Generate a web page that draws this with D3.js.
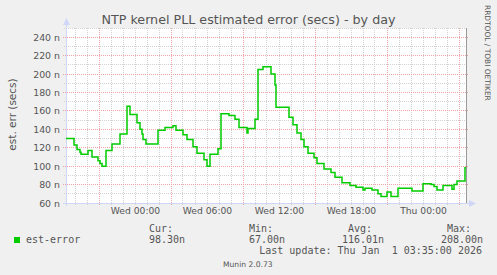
<!DOCTYPE html>
<html>
<head>
<meta charset="utf-8">
<script src="https://cdn.jsdelivr.net/npm/d3@7"></script>
<style>
  body { margin: 0; background: #f0f0f0; }
  svg { display: block; }
  text { font-family: "DejaVu Sans", sans-serif; fill: #555; }
  .mono { font-family: "DejaVu Sans Mono", monospace; font-size: 10px; }
</style>
</head>
<body>
<div id="chart"></div>
<script>
// est-error samples (step starts)
var stepTimes = [
  "2025-12-30 18:15", "2025-12-30 18:55", "2025-12-30 19:10", "2025-12-30 19:25",
  "2025-12-30 19:30", "2025-12-30 20:05", "2025-12-30 20:25", "2025-12-30 20:55",
  "2025-12-30 21:05", "2025-12-30 21:15", "2025-12-30 21:35", "2025-12-30 22:05",
  "2025-12-30 22:45", "2025-12-30 23:20", "2025-12-30 23:35", "2025-12-31 00:10",
  "2025-12-31 00:25", "2025-12-31 00:35", "2025-12-31 00:40", "2025-12-31 00:55",
  "2025-12-31 01:55", "2025-12-31 02:30", "2025-12-31 03:10", "2025-12-31 03:25",
  "2025-12-31 04:00", "2025-12-31 04:20", "2025-12-31 04:50", "2025-12-31 05:10",
  "2025-12-31 05:45", "2025-12-31 06:00", "2025-12-31 06:15", "2025-12-31 06:55",
  "2025-12-31 07:10", "2025-12-31 07:50", "2025-12-31 08:20", "2025-12-31 08:40",
  "2025-12-31 09:20", "2025-12-31 09:25", "2025-12-31 10:00", "2025-12-31 10:15",
  "2025-12-31 10:40", "2025-12-31 11:20", "2025-12-31 11:40", "2025-12-31 11:45",
  "2025-12-31 12:50", "2025-12-31 13:10", "2025-12-31 13:30", "2025-12-31 13:50",
  "2025-12-31 14:05", "2025-12-31 14:25", "2025-12-31 14:55", "2025-12-31 15:10",
  "2025-12-31 15:45", "2025-12-31 16:20", "2025-12-31 16:40", "2025-12-31 17:15",
  "2025-12-31 17:55", "2025-12-31 18:25", "2025-12-31 19:00", "2025-12-31 19:10",
  "2025-12-31 19:45", "2025-12-31 20:15", "2025-12-31 20:30", "2025-12-31 21:00",
  "2025-12-31 21:20", "2025-12-31 21:55", "2025-12-31 23:05", "2026-01-01 00:00",
  "2026-01-01 00:40", "2026-01-01 00:55", "2026-01-01 01:10", "2026-01-01 01:40",
  "2026-01-01 02:25", "2026-01-01 02:35", "2026-01-01 02:50", "2026-01-01 03:30",
  "2026-01-01 03:35"
];
var stepValues = [
  130, 123, 118, 115, 113, 117, 110, 106, 103, 100, 117, 124,
  135, 165, 156, 147, 140, 135, 129, 124, 139, 142, 144, 139,
  134, 129, 121, 114, 107, 100, 113, 119, 157, 155, 151, 142,
  136, 141, 151, 205, 208, 200, 188, 164, 153, 145, 136, 129,
  121, 114, 109, 103, 97, 93, 88, 82, 79, 77, 74, 76,
  74, 70, 67, 72, 67, 76, 73, 81, 80, 78, 74, 79,
  75, 80, 84, 98.3, 98.3
];
var yTicks = [60, 80, 100, 120, 140, 160, 180, 200, 220, 240];
var legendCols = ["Cur:", "Min:", "Avg:", "Max:"];
var legendVals = ["98.30n", "67.00n", "116.01n", "208.00n"];

var W = 497, H = 275;
var pL = 66, pR = 466, pT = 28, pB = 203;

var parse = d3.timeParse("%Y-%m-%d %H:%M");
var data = stepTimes.map(function (t, i) { return { t: parse(t), v: stepValues[i] }; });

var svg = d3.select("#chart").append("svg")
    .attr("width", W)
    .attr("height", H);

svg.append("rect").attr("width", W).attr("height", H).attr("fill", "#f0f0f0");

var x = d3.scaleTime()
    .domain([parse("2025-12-30 18:15"), parse("2026-01-01 03:35")])
    .range([pL, pR]);
var y = d3.scaleLinear().domain([60, 250]).range([pB, pT]);

function px(v) { return Math.floor(v) + 0.5; }

// canvas
svg.append("rect")
    .attr("x", pL).attr("y", pT)
    .attr("width", pR - pL).attr("height", pB - pT)
    .attr("fill", "#fff");

var grid = svg.append("g").attr("stroke-dasharray", "1,1").attr("stroke-width", 1);
var hours = x.ticks(d3.timeHour.every(1));

// minor grid: every hour / every 10n
grid.selectAll(".vmin")
    .data(hours.filter(function (d) { return d.getHours() % 6 != 3; }))
    .enter().append("line")
    .attr("x1", function (d) { return px(x(d)); }).attr("x2", function (d) { return px(x(d)); })
    .attr("y1", pT).attr("y2", pB + 2)
    .attr("stroke", "#d2d2d2");
grid.selectAll(".hmin")
    .data(d3.range(70, 251, 20))
    .enter().append("line")
    .attr("x1", pL - 2).attr("x2", pR)
    .attr("y1", function (d) { return px(y(d)); }).attr("y2", function (d) { return px(y(d)); })
    .attr("stroke", "#d2d2d2");

// major grid: every 6 hours (offset 3h) / every 20n
grid.selectAll(".vmaj")
    .data(hours.filter(function (d) { return d.getHours() % 6 == 3; }))
    .enter().append("line")
    .attr("x1", function (d) { return px(x(d)); }).attr("x2", function (d) { return px(x(d)); })
    .attr("y1", pT).attr("y2", pB + 3)
    .attr("stroke", "#eda4a4");
grid.selectAll(".hmaj")
    .data(yTicks)
    .enter().append("line")
    .attr("x1", pL - 3).attr("x2", pR + 2)
    .attr("y1", function (d) { return px(y(d)); }).attr("y2", function (d) { return px(y(d)); })
    .attr("stroke", "#eda4a4");

// y labels
var yAxis = d3.axisLeft(y).tickValues(yTicks).tickSize(0).tickPadding(0)
    .tickFormat(function (d) { return d + " n"; });
var gy = svg.append("g").attr("transform", "translate(60,0)").call(yAxis);
gy.select(".domain").remove();
gy.selectAll("text").style("font-size", "9.4px").attr("fill", "#555")
    .style("font-family", "DejaVu Sans");

// x labels
var xAxis = d3.axisBottom(x).ticks(d3.timeHour.every(6)).tickSize(0).tickPadding(0)
    .tickFormat(d3.timeFormat("%a %H:%M"));
var gx = svg.append("g").attr("transform", "translate(0,207)").call(xAxis);
gx.select(".domain").remove();
gx.selectAll("text").style("font-size", "9.2px").attr("fill", "#555")
    .style("font-family", "DejaVu Sans");

// axes + arrows
var axisCol = "#cfd6f8";
svg.append("line").attr("x1", px(pL)).attr("x2", px(pL)).attr("y1", pB + 3).attr("y2", pT - 5)
    .attr("stroke", axisCol);
svg.append("line").attr("x1", pL - 3).attr("x2", pR + 4).attr("y1", px(pB)).attr("y2", px(pB))
    .attr("stroke", axisCol);
svg.append("path").attr("d", "M63,25 L66.5,18 L70,25 Z").attr("fill", axisCol);
svg.append("path").attr("d", "M469,200 L476,203.5 L469,207 Z").attr("fill", axisCol);

// right frame line
svg.append("line").attr("x1", pR + 0.5).attr("x2", pR + 0.5).attr("y1", pT).attr("y2", pB)
    .attr("stroke", "#999");

// the series
var line = d3.line()
    .x(function (d) { return x(d.t); })
    .y(function (d) { return y(d.v); })
    .curve(d3.curveStepAfter);
svg.append("path").datum(data)
    .attr("d", line)
    .attr("fill", "none")
    .attr("stroke", "#00cc00")
    .attr("stroke-width", 1.5);

// title
svg.append("text").attr("x", 248.5).attr("y", 24).attr("text-anchor", "middle")
    .style("font-size", "12.7px").text("NTP kernel PLL estimated error (secs) - by day");

// y title
svg.append("text").attr("transform", "translate(15.5,114.5) rotate(-90)")
    .attr("text-anchor", "middle").style("font-size", "10.5px").text("est. err (secs)");

// watermark
svg.append("text").attr("transform", "translate(484.5,5) rotate(90)")
    .style("font-size", "7.45px").attr("fill", "#c4c4c4").text("RRDTOOL / TOBI OETIKER");

// legend
svg.append("rect").attr("x", 14).attr("y", 237).attr("width", 6).attr("height", 6).attr("fill", "#00cc00");
svg.append("text").attr("class", "mono").attr("x", 26).attr("y", 243).text("est-error");
var colX = [149, 249, 348, 447];
var valX = [149, 249, 342, 441];
legendCols.forEach(function (c, i) {
    svg.append("text").attr("class", "mono").attr("x", colX[i]).attr("y", 232).text(c);
    svg.append("text").attr("class", "mono").attr("x", valX[i]).attr("y", 243).text(legendVals[i]);
});
svg.append("text").attr("class", "mono").attr("x", 482).attr("y", 254).attr("text-anchor", "end")
    .style("white-space", "pre").attr("xml:space", "preserve")
    .text("Last update: Thu Jan  1 03:35:00 2026");

svg.append("text").attr("x", 223).attr("y", 267).style("font-size", "7.6px").attr("fill", "#c8c8c8")
    .text("Munin 2.0.73");
</script>
</body>
</html>
